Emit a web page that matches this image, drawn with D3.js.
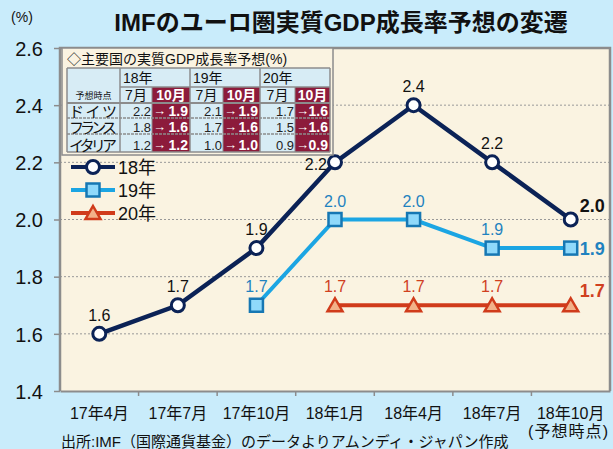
<!DOCTYPE html>
<html>
<head>
<meta charset="utf-8">
<script src="https://cdn.jsdelivr.net/npm/d3@7"></script>
<style>
  body { margin: 0; background: #c9ecfb; }
  svg text { font-family: "Liberation Sans", "Noto Sans CJK JP", sans-serif; }
</style>
</head>
<body>
<div id="container"></div>
<script>
// chart data
let periods = ["17年4月", "17年7月", "17年10月", "18年1月", "18年4月", "18年7月", "18年10月"];
let s18 = [1.6, 1.7, 1.9, 2.2, 2.4, 2.2, 2.0];
let s19 = [null, null, 1.7, 2.0, 2.0, 1.9, 1.9];
let s20 = [null, null, null, 1.7, 1.7, 1.7, 1.7];
let seriesNames = ["18年", "19年", "20年"];
let yTicks = [1.4, 1.6, 1.8, 2.0, 2.2, 2.4, 2.6];

// inset table data
let countries = ["ドイツ", "フランス", "イタリア"];
let tableYears = ["18年", "19年", "20年"];
let julVals = [[2.2, 2.1, 1.7], [1.8, 1.7, 1.5], [1.2, 1.0, 0.9]];
let octVals = [[1.9, 1.9, 1.6], [1.6, 1.6, 1.6], [1.2, 1.0, 0.9]];

let w = 613;
let h = 449;
let pLeft = 60, pRight = 610, pTop = 48, pBottom = 391;

let viz = d3.select("#container")
  .append("svg")
  .attr("width", w)
  .attr("height", h)
  .style("display", "block");

viz.append("rect").attr("width", w).attr("height", h).attr("fill", "#c9ecfb");
viz.append("rect")
  .attr("x", pLeft).attr("y", pTop)
  .attr("width", pRight - pLeft).attr("height", pBottom - pTop)
  .attr("fill", "#faf3e1");

let xScale = d3.scaleBand().domain(periods).range([pLeft, pRight]);
let yScale = d3.scaleLinear().domain([1.4, 2.6]).range([pBottom, pTop]);
let cx = function(i) { return xScale(periods[i]) + xScale.bandwidth() / 2; };

// gridlines
viz.append("g").selectAll("line")
  .data(yTicks.filter(function(d) { return d > 1.4 && d < 2.6; }))
  .enter().append("line")
  .attr("x1", pLeft).attr("x2", pRight)
  .attr("y1", function(d) { return yScale(d); })
  .attr("y2", function(d) { return yScale(d); })
  .attr("stroke", "#999")
  .attr("stroke-width", 1)
  .attr("stroke-dasharray", "2,2");

// frame
viz.append("path")
  .attr("d", "M" + pLeft + "," + pBottom + "V" + pTop + "H" + pRight + "V" + pBottom)
  .attr("fill", "none").attr("stroke", "#8c8c8c").attr("stroke-width", 2.5);

// y axis
let yAxis = d3.axisLeft(yScale).tickValues(yTicks).tickSize(6).tickFormat(d3.format(".1f"));
let yAxisGroup = viz.append("g")
  .attr("transform", "translate(" + pLeft + ",0)")
  .call(yAxis);
yAxisGroup.select(".domain").remove();
yAxisGroup.selectAll("line").attr("stroke", "#8c8c8c").attr("stroke-width", 1.5);
yAxisGroup.selectAll("text")
  .attr("x", -17).attr("dy", "0.36em")
  .attr("fill", "#111").style("font-size", "20px");

// x axis
let xAxis = d3.axisBottom(xScale).tickSize(0).tickSizeOuter(0);
let xAxisGroup = viz.append("g")
  .attr("transform", "translate(0," + pBottom + ")")
  .call(xAxis);
xAxisGroup.select(".domain").attr("stroke", "#8c8c8c").attr("stroke-width", 2);
xAxisGroup.selectAll("text")
  .attr("y", 28).attr("dy", 0)
  .attr("fill", "#111").style("font-size", "16px");
xAxisGroup.selectAll(".sep")
  .data(periods.slice(1))
  .enter().append("line")
  .attr("x1", function(d) { return xScale(d); })
  .attr("x2", function(d) { return xScale(d); })
  .attr("y1", 0).attr("y2", 5)
  .attr("stroke", "#8c8c8c").attr("stroke-width", 1.5);
viz.append("text")
  .attr("x", 528).attr("y", 437)
  .attr("textLength", 80).attr("lengthAdjust", "spacing")
  .style("font-size", "16px").attr("fill", "#111")
  .text("(予想時点)");

// title etc
viz.append("text")
  .attr("x", 341).attr("y", 31)
  .attr("text-anchor", "middle")
  .style("font-size", "24px").style("font-weight", "bold")
  .attr("fill", "#111")
  .text("IMFのユーロ圏実質GDP成長率予想の変遷");
viz.append("text")
  .attr("x", 22).attr("y", 22)
  .attr("text-anchor", "middle")
  .style("font-size", "14px").attr("fill", "#111")
  .text("(%)");
viz.append("text")
  .attr("x", 61).attr("y", 447)
  .style("font-size", "15px").attr("fill", "#111")
  .text("出所:IMF（国際通貨基金）のデータよりアムンディ・ジャパン作成");

// series
let series = [
  {name: seriesNames[0], values: s18, line: "#0b2256", fill: "#fff", stroke: "#0b2256", label: "#111", shape: "circle"},
  {name: seriesNames[1], values: s19, line: "#1ba5e3", fill: "#8fd9fb", stroke: "#1677b3", label: "#1f82bf", shape: "square"},
  {name: seriesNames[2], values: s20, line: "#d03b1b", fill: "#f2b189", stroke: "#d03b1b", label: "#d0401f", shape: "triangle"}
];

let lineMaker = d3.line()
  .defined(function(d) { return d != null; })
  .x(function(d, i) { return cx(i); })
  .y(function(d) { return yScale(d); });

function drawMarker(g, shape, x, y, s) {
  if (shape == "circle") {
    g.append("circle").attr("cx", x).attr("cy", y).attr("r", 6.5)
      .attr("fill", s.fill).attr("stroke", s.stroke).attr("stroke-width", 3);
  } else if (shape == "square") {
    g.append("rect").attr("x", x - 6.5).attr("y", y - 6.5).attr("width", 13).attr("height", 13)
      .attr("fill", s.fill).attr("stroke", s.stroke).attr("stroke-width", 2.5);
  } else {
    g.append("path")
      .attr("d", "M" + x + "," + (y - 7) + "L" + (x + 7.5) + "," + (y + 6) + "L" + (x - 7.5) + "," + (y + 6) + "Z")
      .attr("fill", s.fill).attr("stroke", s.stroke).attr("stroke-width", 2.5)
      .attr("stroke-linejoin", "miter");
  }
}

let graphGroup = viz.append("g");
series.slice().reverse().forEach(function(s) {
  graphGroup.append("path")
    .attr("d", lineMaker(s.values))
    .attr("fill", "none")
    .attr("stroke", s.line)
    .attr("stroke-width", s.shape == "circle" ? 4.5 : 4);
});
series.slice().reverse().forEach(function(s) {
  s.values.forEach(function(v, i) {
    if (v == null) return;
    drawMarker(graphGroup, s.shape, cx(i), yScale(v), s);
  });
});

// value labels
series.forEach(function(s, si) {
  s.values.forEach(function(v, i) {
    if (v == null) return;
    let x = cx(i), y = yScale(v);
    let t = graphGroup.append("text").attr("fill", s.label).text(d3.format(".1f")(v));
    if (i == periods.length - 1) {
      t.style("font-size", "18px").style("font-weight", "bold").attr("x", x + 9);
      if (si == 0) t.attr("fill", "#111").attr("y", y - 8);
      else if (si == 1) t.attr("y", y + 7);
      else t.attr("y", y - 8);
    } else if (si == 0 && i == 3) {
      t.style("font-size", "16px").attr("text-anchor", "end").attr("x", x - 8).attr("y", y + 8);
    } else {
      t.style("font-size", "16px").attr("text-anchor", "middle").attr("x", x).attr("y", y - 13);
    }
  });
});

// legend
let legend = viz.append("g");
series.forEach(function(s, i) {
  let ly = 167 + i * 23;
  legend.append("line").attr("x1", 71).attr("x2", 115).attr("y1", ly).attr("y2", ly)
    .attr("stroke", s.line).attr("stroke-width", 4);
  drawMarker(legend, s.shape, 93, ly, s);
  legend.append("text").attr("x", 118).attr("y", ly + 6.5)
    .style("font-size", "18px").attr("fill", "#111").text(s.name);
});

// inset table
let tbl = viz.append("g");
tbl.append("rect").attr("x", 62).attr("y", 48).attr("width", 271).attr("height", 107)
  .attr("fill", "#faf3e1").attr("stroke", "#8c8c8c").attr("stroke-width", 1.5);
tbl.append("text").attr("x", 67).attr("y", 64)
  .style("font-size", "14px").attr("fill", "#111").text("◇主要国の実質GDP成長率予想(%)");

let colX = [67, 120, 152, 190, 223, 260, 295, 330];
let rowY = [68, 87, 103, 118, 134, 152];
tbl.append("rect").attr("x", colX[0]).attr("y", rowY[0])
  .attr("width", colX[7] - colX[0]).attr("height", rowY[5] - rowY[0])
  .attr("fill", "#d7ecf5");
// maroon October cells
tableYears.forEach(function(yr, k) {
  tbl.append("rect").attr("x", colX[2 + 2 * k]).attr("y", rowY[1])
    .attr("width", colX[3 + 2 * k] - colX[2 + 2 * k]).attr("height", rowY[5] - rowY[1])
    .attr("fill", "#8c1b3b");
});
// grid
let gridColor = "#8c8c8c";
[0, 1, 3, 5, 7].forEach(function(c) {
  tbl.append("line").attr("x1", colX[c]).attr("x2", colX[c]).attr("y1", rowY[0]).attr("y2", rowY[5])
    .attr("stroke", gridColor).attr("stroke-width", 1.5);
});
[2, 4, 6].forEach(function(c) {
  tbl.append("line").attr("x1", colX[c]).attr("x2", colX[c]).attr("y1", rowY[1]).attr("y2", rowY[5])
    .attr("stroke", gridColor).attr("stroke-width", 1);
});
tbl.append("line").attr("x1", colX[0]).attr("x2", colX[7]).attr("y1", rowY[0]).attr("y2", rowY[0])
  .attr("stroke", gridColor).attr("stroke-width", 1.5);
tbl.append("line").attr("x1", colX[1]).attr("x2", colX[7]).attr("y1", rowY[1]).attr("y2", rowY[1])
  .attr("stroke", gridColor).attr("stroke-width", 1.5);
tbl.append("line").attr("x1", colX[0]).attr("x2", colX[7]).attr("y1", rowY[2]).attr("y2", rowY[2])
  .attr("stroke", gridColor).attr("stroke-width", 2);
[3, 4].forEach(function(r) {
  tbl.append("line").attr("x1", colX[0]).attr("x2", colX[7]).attr("y1", rowY[r]).attr("y2", rowY[r])
    .attr("stroke", gridColor).attr("stroke-width", 1.5).attr("stroke-dasharray", "3,1");
});
tbl.append("line").attr("x1", colX[0]).attr("x2", colX[7]).attr("y1", rowY[5]).attr("y2", rowY[5])
  .attr("stroke", gridColor).attr("stroke-width", 1.5);

// headers
tbl.append("text").attr("x", (colX[0] + colX[1]) / 2).attr("y", 99).attr("text-anchor", "middle")
  .style("font-size", "9px").attr("fill", "#111").text("予想時点");
tableYears.forEach(function(yr, k) {
  tbl.append("text").attr("x", colX[1 + 2 * k] + 3).attr("y", 83)
    .style("font-size", "14px").attr("fill", "#111").text(yr);
  tbl.append("text").attr("x", (colX[1 + 2 * k] + colX[2 + 2 * k]) / 2).attr("y", 100)
    .attr("text-anchor", "middle").style("font-size", "14px").attr("fill", "#111").text("7月");
  tbl.append("text").attr("x", (colX[2 + 2 * k] + colX[3 + 2 * k]) / 2).attr("y", 100)
    .attr("text-anchor", "middle").style("font-size", "14px").style("font-weight", "bold")
    .attr("fill", "#fff").text("10月");
});

// body
countries.forEach(function(cn, r) {
  let by = rowY[3 + r] - 2.5;
  tbl.append("text").attr("x", 69).attr("y", by + 1)
    .attr("textLength", 48).attr("lengthAdjust", "spacing")
    .style("font-size", "15px").attr("fill", "#111").text(cn);
  tableYears.forEach(function(yr, k) {
    tbl.append("text").attr("x", colX[2 + 2 * k] - 1).attr("y", by)
      .attr("text-anchor", "end").style("font-size", "13px").attr("fill", "#222")
      .text(d3.format(".1f")(julVals[r][k]));
    tbl.append("text").attr("x", colX[2 + 2 * k] + 1).attr("y", by - 1)
      .style("font-size", "13px").style("font-weight", "bold").attr("fill", "#fff").text("→");
    tbl.append("text").attr("x", colX[3 + 2 * k] - 2).attr("y", by)
      .attr("text-anchor", "end").style("font-size", "14px").style("font-weight", "bold")
      .attr("fill", "#fff").text(d3.format(".1f")(octVals[r][k]));
  });
});
</script>
</body>
</html>
